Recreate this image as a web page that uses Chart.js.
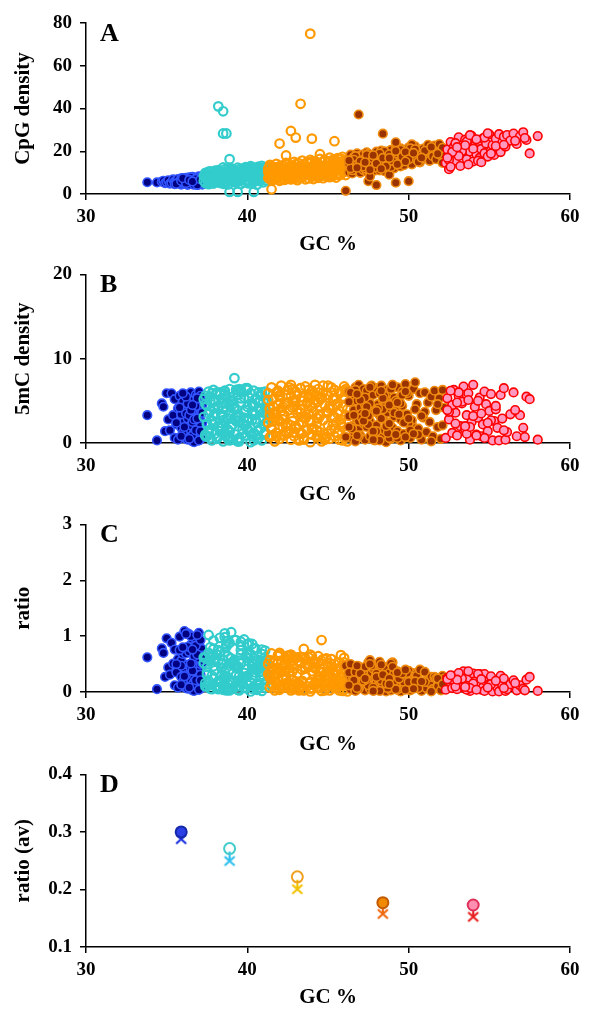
<!DOCTYPE html>
<html>
<head>
<meta charset="utf-8">
<script src="https://cdn.jsdelivr.net/npm/chart.js@4.4.1/dist/chart.umd.min.js"></script>
<style>
  body { margin: 0; background: #fff; }
  #wrap { position: relative; width: 594px; height: 1011px; }
  canvas { position: absolute; left: 0; }
</style>
</head>
<body>
<div id="wrap">
  <canvas id="cA" width="594" height="255" style="top:0px"></canvas>
  <canvas id="cB" width="594" height="250" style="top:255px"></canvas>
  <canvas id="cC" width="594" height="250" style="top:505px"></canvas>
  <canvas id="cD" width="594" height="256" style="top:755px"></canvas>
</div>
<script>
// GC % of each fragment, grouped by isochore class, with CpG density,
// 5mC density and 5mC/CpG ratio for the same fragments
const gcBlue = [
  33.8, 34.4, 34.7, 34.8, 34.9, 35.0, 35.1, 35.2, 35.3, 35.4,
  35.5, 35.5, 35.6, 35.7, 35.7, 35.8, 35.9, 35.9, 36.0, 36.0,
  36.1, 36.1, 36.2, 36.2, 36.3, 36.3, 36.3, 36.4, 36.4, 36.5,
  36.5, 36.5, 36.6, 36.6, 36.6, 36.7, 36.7, 36.7, 36.8, 36.8,
  36.8, 36.9, 36.9, 36.9, 37.0, 37.0, 37.0, 37.0, 37.1, 37.1,
  37.1, 37.2, 37.2, 37.2, 36.4, 36.2, 35.9, 36.7, 37.1, 36.5,
  36.0, 36.2, 36.3, 36.5, 36.6, 36.8, 36.9, 37.0, 37.1, 37.2,
  35.8, 36.1, 36.4, 36.6, 36.9, 37.1, 36.3, 36.7, 37.0, 36.5,
  35.6, 35.9, 36.2, 36.8, 37.2, 36.0, 36.4, 36.9, 36.6, 37.1
];
const cpgBlue = [
  5.5, 5.4, 5.8, 6.2, 5.1, 5.6, 6.4, 4.9, 5.3, 6.8,
  5.9, 4.6, 6.3, 7.0, 5.2, 5.7, 6.6, 4.4, 7.2, 5.0,
  6.1, 4.8, 7.5, 5.6, 6.9, 4.3, 5.9, 7.8, 5.1, 6.4,
  4.7, 7.1, 5.8, 8.0, 4.5, 6.7, 5.3, 7.4, 6.0, 4.9,
  7.7, 5.5, 6.8, 4.2, 7.0, 5.7, 8.2, 4.6, 6.3, 7.6,
  5.2, 6.9, 4.4, 7.9, 6.2, 5.4, 7.3, 4.8, 6.6, 5.0,
  6.3, 5.1, 7.0, 4.7, 6.5, 5.3, 7.6, 4.9, 6.0, 7.3,
  5.6, 6.7, 4.6, 7.2, 5.0, 6.4, 5.8, 4.4, 6.9, 7.7,
  4.8, 6.1, 5.2, 7.0, 5.5, 7.4, 6.6, 4.3, 5.9, 6.8
];
const mcBlue = [
  3.3, 0.3, 4.7, 4.3, 1.4, 5.9, 2.8, 1.5, 5.9, 3.3,
  0.6, 5.2, 2.2, 4.1, 0.4, 5.6, 1.8, 3.7, 0.9, 4.9,
  2.6, 5.8, 0.5, 3.9, 1.7, 4.6, 2.9, 0.8, 5.4, 3.2,
  1.1, 6.0, 4.4, 0.2, 2.4, 5.1, 3.6, 1.3, 5.7, 2.0,
  4.0, 0.7, 3.0, 5.5, 1.9, 4.8, 0.3, 6.1, 2.7, 3.8,
  1.0, 5.3, 2.3, 4.5, 5.0, 1.6, 3.4, 0.1, 4.2, 2.1,
  1.2, 3.5, 0.4, 5.0, 2.5, 4.4, 1.6, 3.0, 5.6, 0.6,
  4.2, 1.9, 3.3, 0.9, 5.3, 2.0, 4.7, 2.8, 0.3, 3.9,
  2.4, 0.8, 5.5, 1.5, 3.6, 5.9, 0.5, 2.9, 4.5, 1.4
];
const ratioBlue = [
  0.62, 0.05, 0.78, 0.70, 0.27, 0.96, 0.44, 0.31, 0.88, 0.51,
  0.12, 0.76, 0.35, 0.59, 0.08, 0.99, 0.27, 0.56, 0.13, 0.68,
  0.43, 1.09, 0.07, 0.70, 0.25, 1.05, 0.49, 0.10, 1.03, 0.50,
  0.23, 0.85, 0.76, 0.03, 0.53, 0.76, 0.68, 0.18, 0.95, 0.41,
  0.52, 0.13, 0.44, 1.01, 0.27, 0.84, 0.04, 1.06, 0.43, 0.50,
  0.19, 0.77, 0.52, 0.57, 0.81, 0.30, 0.47, 0.02, 0.64, 0.42,
  0.18, 0.69, 0.06, 1.00, 0.38, 0.83, 0.21, 0.61, 0.93, 0.08,
  0.75, 0.28, 0.72, 0.13, 1.02, 0.31, 0.81, 0.64, 0.04, 0.51,
  0.50, 0.13, 1.04, 0.21, 0.65, 0.80, 0.08, 0.67, 0.76, 0.21
];

const gcCyan = [
  37.3, 37.4, 37.4, 37.5, 37.5, 37.6, 37.6, 37.7, 37.7, 37.8,
  37.8, 37.9, 37.9, 38.0, 38.0, 38.1, 38.1, 38.2, 38.2, 38.3,
  38.3, 38.4, 38.4, 38.5, 38.5, 38.6, 38.6, 38.6, 38.7, 38.7,
  38.8, 38.8, 38.9, 38.9, 39.0, 39.0, 39.1, 39.1, 39.2, 39.2,
  39.3, 39.3, 39.4, 39.4, 39.5, 39.5, 39.6, 39.6, 39.7, 39.7,
  39.8, 39.8, 39.9, 39.9, 40.0, 40.0, 40.1, 40.1, 40.2, 40.2,
  40.3, 40.3, 40.4, 40.4, 40.5, 40.5, 40.6, 40.6, 40.7, 40.7,
  40.8, 40.8, 40.9, 40.9, 41.0, 41.0, 41.1, 41.1, 41.2, 41.2,
  37.5, 37.9, 38.2, 38.6, 38.9, 39.3, 39.6, 40.0, 40.3, 40.7,
  41.0, 37.7, 38.2, 38.5, 38.5, 38.7, 38.9, 38.9, 39.4, 40.4,
  37.4, 37.6, 37.8, 38.0, 38.2, 38.4, 38.6, 38.8, 39.0, 39.2,
  39.4, 39.6, 39.8, 40.0, 40.2, 40.4, 40.6, 40.8, 41.0, 41.2,
  37.3, 37.5, 37.7, 37.9, 38.1, 38.3, 38.5, 38.7, 38.9, 39.1,
  39.3, 39.5, 39.7, 39.9, 40.1, 40.3, 40.5, 40.7, 40.9, 41.1,
  37.6, 38.0, 38.4, 38.8, 39.2, 39.6, 40.0, 40.4, 40.8, 41.2,
  37.4, 37.9, 38.3, 38.7, 39.1, 39.5, 39.9, 40.3, 40.7, 41.1
];
const cpgCyan = [
  6.2, 8.9, 5.1, 9.8, 7.0, 4.6, 10.4, 6.8, 8.1, 5.5,
  9.2, 7.4, 4.9, 10.9, 6.3, 8.6, 5.8, 11.2, 7.7, 5.2,
  9.5, 6.6, 10.1, 4.8, 8.3, 7.1, 11.5, 5.6, 9.0, 6.0,
  10.6, 4.5, 8.8, 7.3, 12.0, 5.9, 9.7, 6.5, 11.0, 8.0,
  5.3, 10.3, 7.6, 12.3, 6.1, 9.1, 4.7, 11.8, 8.4, 6.9,
  10.8, 5.4, 12.6, 7.9, 9.4, 6.4, 11.3, 5.0, 8.7, 13.0,
  7.2, 10.0, 5.7, 12.1, 8.5, 6.7, 11.6, 4.4, 9.9, 12.8,
  6.0, 10.7, 8.2, 13.2, 5.5, 9.6, 7.5, 12.4, 6.2, 10.2,
  7.8, 9.3, 5.9, 8.0, 6.6, 10.5, 7.0, 9.0, 11.4, 8.6,
  12.2, 6.9, 41.0, 38.7, 28.3, 28.3, 16.3, 1.0, 1.0, 1.0,
  7.6, 5.9, 9.4, 6.1, 10.2, 7.9, 5.4, 11.7, 8.2, 6.3,
  9.8, 7.1, 12.1, 5.6, 10.4, 8.8, 6.5, 11.0, 9.3, 7.4,
  8.4, 6.6, 10.6, 5.3, 9.0, 7.2, 12.4, 6.8, 10.0, 8.5,
  5.8, 11.4, 7.7, 9.6, 6.2, 12.7, 8.1, 10.9, 6.9, 9.7,
  5.0, 8.7, 6.4, 10.3, 7.5, 9.2, 11.9, 6.0, 8.9, 12.5,
  9.9, 7.0, 8.0, 5.5, 11.1, 6.8, 10.1, 7.3, 12.0, 8.3
];
const mcCyan = [
  3.1, 5.6, 0.8, 4.4, 2.2, 6.1, 1.5, 3.8, 5.0, 0.3,
  2.7, 4.9, 6.3, 1.1, 3.5, 5.8, 0.5, 2.0, 4.2, 6.0,
  1.8, 3.3, 5.3, 0.2, 4.7, 2.5, 6.2, 1.3, 3.9, 5.5,
  0.7, 2.9, 4.5, 6.4, 1.9, 3.6, 5.1, 0.4, 7.7, 4.0,
  6.3, 1.0, 3.2, 5.7, 0.6, 2.6, 4.8, 6.0, 2.3, 1.6,
  3.7, 5.4, 0.9, 2.1, 6.5, 4.3, 1.4, 3.0, 5.9, 0.1,
  2.8, 4.6, 6.2, 1.2, 3.4, 5.2, 0.5, 2.4, 4.1, 6.0,
  1.7, 3.9, 5.6, 0.3, 2.9, 4.9, 6.1, 1.0, 3.5, 5.0,
  0.8, 2.2, 4.4, 5.8, 1.3, 3.1, 6.3, 2.6, 4.7, 0.6,
  3.6, 5.5, 1.9, 4.2, 2.7, 0.9, 3.3, 0.4, 0.2, 0.3,
  4.6, 1.2, 5.9, 2.4, 0.7, 3.4, 6.1, 1.6, 4.9, 2.9,
  0.4, 5.3, 3.0, 6.3, 1.8, 4.4, 0.9, 5.7, 2.1, 3.8,
  5.2, 2.3, 0.6, 4.1, 6.0, 1.4, 3.1, 5.5, 0.3, 4.6,
  2.6, 6.4, 1.1, 3.9, 5.4, 0.8, 2.8, 4.8, 6.0, 1.3,
  3.5, 5.0, 2.0, 0.5, 4.3, 6.2, 1.7, 3.6, 5.1, 2.5,
  1.0, 3.2, 5.8, 4.7, 2.2, 0.2, 6.5, 3.7, 1.5, 4.2
];
const ratioCyan = [
  0.52, 0.63, 0.16, 0.45, 0.31, 1.02, 0.15, 0.56, 0.62, 0.05,
  0.29, 0.66, 0.92, 0.10, 0.56, 0.67, 0.09, 0.18, 0.55, 0.97,
  0.19, 0.50, 0.52, 0.04, 0.57, 0.35, 0.98, 0.23, 0.43, 0.91,
  0.07, 0.64, 0.51, 0.88, 0.16, 1.07, 0.53, 0.06, 0.93, 0.50,
  0.93, 0.10, 0.42, 0.46, 0.10, 0.29, 0.90, 0.51, 0.27, 0.23,
  0.34, 0.94, 0.07, 0.27, 0.69, 0.67, 0.12, 0.60, 0.68, 0.01,
  0.86, 0.46, 0.78, 0.10, 0.40, 0.78, 0.04, 0.55, 0.41, 0.47,
  0.28, 0.36, 0.68, 0.02, 0.53, 0.51, 0.74, 0.08, 0.56, 0.49,
  0.10, 0.24, 0.75, 0.72, 0.20, 0.30, 0.84, 0.29, 0.41, 0.07,
  0.30, 0.80, 0.05, 0.11, 0.10, 0.03, 0.21, 0.40, 0.20, 0.30,
  0.61, 0.20, 0.63, 0.39, 0.07, 0.43, 1.05, 0.14, 0.60, 0.46,
  0.04, 0.75, 0.25, 0.85, 0.17, 0.50, 0.14, 0.52, 0.23, 0.51,
  0.62, 0.35, 0.06, 0.77, 0.67, 0.19, 0.25, 0.81, 0.03, 0.54,
  0.45, 0.56, 0.14, 0.41, 0.87, 0.06, 0.35, 0.44, 0.76, 0.13,
  0.70, 0.57, 0.31, 0.05, 0.57, 0.67, 0.14, 0.60, 0.57, 0.20,
  0.10, 0.46, 0.72, 0.85, 0.20, 0.03, 0.64, 0.51, 0.12, 0.51
];

const gcOrange = [
  41.3, 41.3, 41.4, 41.4, 41.5, 41.5, 41.6, 41.6, 41.7, 41.7,
  41.8, 41.8, 41.9, 41.9, 42.0, 42.0, 42.1, 42.1, 42.2, 42.2,
  42.3, 42.3, 42.4, 42.4, 42.5, 42.5, 42.6, 42.6, 42.7, 42.7,
  42.8, 42.8, 42.9, 42.9, 43.0, 43.0, 43.1, 43.1, 43.2, 43.2,
  43.3, 43.3, 43.4, 43.4, 43.5, 43.5, 43.6, 43.6, 43.7, 43.7,
  43.8, 43.8, 43.9, 43.9, 44.0, 44.0, 44.1, 44.1, 44.2, 44.2,
  44.3, 44.3, 44.4, 44.4, 44.5, 44.5, 44.6, 44.6, 44.7, 44.7,
  44.8, 44.8, 44.9, 44.9, 45.0, 45.0, 45.1, 45.1, 45.2, 45.2,
  45.3, 45.3, 45.4, 45.4, 45.5, 45.5, 45.6, 45.6, 45.7, 45.7,
  45.8, 45.8, 45.9, 45.9, 46.0, 46.0, 46.1, 46.1, 46.2, 46.2,
  43.9, 43.3, 42.7, 43.0, 44.0, 45.4, 42.0, 42.4, 41.5, 44.5,
  41.3, 41.5, 41.7, 41.9, 42.1, 42.3, 42.5, 42.7, 42.9, 43.1,
  43.3, 43.5, 43.7, 43.9, 44.1, 44.3, 44.5, 44.7, 44.9, 45.1,
  45.3, 45.5, 45.7, 45.9, 46.1, 41.4, 41.6, 41.8, 42.0, 42.2,
  42.4, 42.6, 42.8, 43.0, 43.2, 43.4, 43.6, 43.8, 44.0, 44.2,
  44.4, 44.6, 44.8, 45.0, 45.2, 45.4, 45.6, 45.8, 46.0, 46.2,
  41.4, 41.9, 42.4, 42.9, 43.4, 43.9, 44.4, 44.9, 45.4, 45.9,
  41.6, 42.2, 42.8, 43.3, 43.8, 44.3, 44.8, 45.3, 45.8, 46.1
];
const cpgOrange = [
  7.5, 11.8, 9.2, 13.6, 6.4, 10.5, 8.3, 12.7, 6.9, 9.8,
  14.1, 7.8, 11.0, 8.6, 13.0, 6.2, 10.2, 12.2, 7.1, 9.5,
  11.4, 6.6, 14.5, 8.9, 10.8, 7.4, 12.9, 9.1, 6.8, 13.3,
  8.0, 11.6, 15.0, 7.2, 10.0, 12.5, 6.5, 9.4, 14.3, 8.7,
  12.0, 7.7, 10.6, 15.6, 8.4, 13.8, 6.9, 11.2, 9.7, 14.8,
  7.3, 12.4, 9.9, 16.0, 8.1, 11.5, 13.4, 7.0, 10.3, 15.2,
  9.0, 14.0, 7.6, 12.1, 16.4, 8.8, 10.7, 13.1, 7.4, 11.9,
  15.5, 9.3, 12.8, 8.2, 14.6, 10.1, 17.0, 7.9, 11.3, 13.7,
  8.5, 15.9, 10.9, 12.6, 7.7, 14.2, 9.6, 16.8, 11.1, 13.2,
  9.2, 15.0, 12.3, 17.4, 10.4, 14.4, 8.9, 16.1, 11.7, 13.5,
  75.0, 42.2, 29.5, 26.4, 25.9, 24.7, 23.6, 18.0, 2.2, 18.6,
  10.3, 8.0, 12.5, 7.2, 11.3, 9.6, 13.9, 8.3, 10.9, 12.0,
  7.5, 11.9, 9.4, 14.6, 10.8, 8.6, 13.2, 11.6, 9.2, 15.1,
  10.6, 13.5, 8.8, 12.9, 14.7, 7.0, 9.9, 12.2, 8.5, 13.4,
  10.0, 7.8, 11.5, 14.0, 9.0, 12.6, 10.4, 8.9, 15.3, 11.1,
  13.6, 9.8, 16.0, 12.3, 10.2, 14.9, 12.0, 16.5, 10.7, 15.8,
  12.8, 9.3, 7.9, 11.8, 13.1, 8.7, 12.7, 10.5, 16.2, 11.4,
  8.2, 10.8, 13.0, 9.6, 11.2, 14.3, 12.4, 9.4, 14.0, 12.9
];
const mcOrange = [
  2.4, 5.9, 0.7, 4.1, 6.6, 1.6, 3.5, 5.2, 0.2, 3.0,
  6.0, 1.2, 4.6, 2.8, 0.5, 5.5, 3.8, 6.8, 1.9, 4.3,
  0.9, 3.3, 5.7, 2.0, 6.3, 4.8, 1.4, 3.9, 6.9, 0.4,
  5.0, 2.6, 0.8, 4.4, 6.1, 1.7, 3.6, 5.8, 2.2, 0.3,
  6.5, 4.0, 1.1, 3.1, 5.4, 0.6, 2.9, 6.7, 4.7, 1.5,
  3.4, 5.6, 0.1, 2.5, 6.2, 4.2, 1.8, 3.7, 5.1, 6.9,
  0.7, 2.3, 4.9, 6.4, 1.3, 3.2, 5.3, 0.2, 2.7, 6.0,
  4.5, 1.0, 3.8, 5.7, 6.8, 2.1, 0.5, 4.1, 6.6, 1.6,
  3.0, 5.2, 0.8, 6.3, 2.4, 4.6, 1.2, 3.5, 5.9, 0.4,
  6.1, 2.8, 4.3, 1.9, 5.5, 0.6, 3.3, 6.4, 1.4, 4.0,
  4.4, 3.6, 2.1, 5.0, 1.7, 3.1, 2.6, 4.8, 0.9, 5.3,
  5.1, 1.8, 3.7, 6.2, 0.9, 4.5, 2.3, 5.6, 1.2, 3.9,
  6.5, 0.4, 4.8, 2.7, 5.9, 1.5, 3.4, 6.8, 0.7, 4.4,
  2.1, 5.3, 3.8, 0.3, 6.1, 4.0, 2.6, 0.8, 5.7, 3.2,
  1.4, 6.6, 4.2, 2.0, 0.5, 5.0, 3.1, 6.3, 1.0, 4.7,
  2.9, 5.5, 0.6, 3.6, 6.0, 1.7, 4.6, 2.4, 6.7, 0.2,
  3.3, 6.0, 1.3, 4.9, 2.5, 5.8, 0.9, 3.7, 5.2, 1.9,
  4.3, 2.8, 6.4, 1.1, 5.4, 3.0, 0.4, 4.1, 2.2, 6.2
];
const ratioOrange = [
  0.32, 0.50, 0.08, 0.30, 0.69, 0.15, 0.42, 0.41, 0.03, 0.31,
  0.43, 0.15, 0.42, 0.33, 0.04, 0.70, 0.37, 0.56, 0.27, 0.45,
  0.08, 0.50, 0.39, 0.22, 0.58, 0.65, 0.11, 0.43, 0.66, 0.03,
  0.63, 0.22, 0.05, 0.61, 0.61, 0.14, 0.55, 0.62, 0.15, 0.03,
  0.54, 0.52, 0.10, 0.20, 0.77, 0.04, 0.42, 0.60, 0.48, 0.10,
  0.47, 0.45, 0.01, 0.16, 0.64, 0.37, 0.13, 0.53, 0.50, 0.45,
  0.08, 0.16, 0.64, 0.53, 0.08, 0.36, 0.93, 0.02, 0.36, 0.50,
  0.29, 0.11, 0.30, 0.60, 0.47, 0.21, 0.03, 0.52, 0.59, 0.12,
  0.35, 0.33, 0.07, 0.50, 0.31, 0.32, 0.13, 0.21, 0.53, 0.03,
  0.66, 0.19, 0.35, 0.11, 0.53, 0.04, 0.37, 0.40, 0.12, 0.30,
  0.06, 0.09, 0.07, 0.19, 0.07, 0.13, 0.11, 0.27, 0.41, 0.28,
  0.50, 0.23, 0.30, 0.66, 0.08, 0.47, 0.17, 0.67, 0.11, 0.33,
  0.63, 0.03, 0.51, 0.18, 0.55, 0.17, 0.26, 0.59, 0.08, 0.29,
  0.20, 0.39, 0.43, 0.02, 0.41, 0.57, 0.26, 0.07, 0.67, 0.24,
  0.14, 0.64, 0.37, 0.14, 0.06, 0.40, 0.30, 0.62, 0.07, 0.42,
  0.21, 0.56, 0.04, 0.29, 0.59, 0.11, 0.38, 0.15, 0.61, 0.01,
  0.26, 0.64, 0.16, 0.42, 0.19, 0.67, 0.07, 0.35, 0.32, 0.17,
  0.52, 0.26, 0.49, 0.11, 0.48, 0.21, 0.03, 0.44, 0.16, 0.48
];

const gcBrown = [
  46.3, 46.3, 46.4, 46.4, 46.5, 46.5, 46.6, 46.6, 46.7, 46.7,
  46.8, 46.8, 46.9, 46.9, 47.0, 47.0, 47.1, 47.1, 47.2, 47.2,
  47.3, 47.3, 47.4, 47.4, 47.5, 47.5, 47.6, 47.6, 47.7, 47.7,
  47.8, 47.8, 47.9, 47.9, 48.0, 48.0, 48.1, 48.1, 48.2, 48.2,
  48.3, 48.3, 48.4, 48.4, 48.5, 48.5, 48.6, 48.6, 48.7, 48.7,
  48.8, 48.8, 48.9, 48.9, 49.0, 49.0, 49.1, 49.1, 49.2, 49.2,
  49.3, 49.3, 49.4, 49.4, 49.5, 49.5, 49.6, 49.6, 49.7, 49.8,
  49.9, 50.0, 50.1, 50.2, 50.3, 50.4, 50.5, 50.6, 50.7, 50.8,
  50.9, 51.0, 51.1, 51.2, 51.3, 51.4, 51.5, 51.6, 51.7, 51.8,
  51.9, 52.0, 52.1, 52.2, 50.2, 50.6, 51.0, 51.4, 51.8, 52.1,
  46.9, 48.4, 46.1, 47.5, 48.0, 49.2, 50.0, 49.2, 48.8, 47.6,
  46.3, 46.5, 46.7, 46.9, 47.1, 47.3, 47.5, 47.7, 47.9, 48.1,
  48.3, 48.5, 48.7, 48.9, 49.1, 49.3, 49.5, 49.7, 49.9, 50.1,
  46.4, 46.6, 46.8, 47.0, 47.2, 47.4, 47.6, 47.8, 48.0, 48.2,
  48.4, 48.6, 48.8, 49.0, 49.2, 49.4, 49.6, 49.8, 50.0, 50.4,
  46.3, 46.8, 47.3, 47.8, 48.3, 48.8, 49.3, 49.8, 50.3, 50.8
];
const cpgBrown = [
  10.2, 16.5, 12.8, 18.4, 9.6, 14.7, 17.3, 11.5, 15.6, 13.4,
  19.0, 10.8, 15.0, 12.1, 17.8, 9.9, 14.0, 16.9, 11.2, 18.6,
  13.0, 15.9, 10.5, 19.5, 12.5, 17.1, 14.4, 9.4, 16.2, 11.8,
  18.0, 13.7, 15.3, 10.9, 19.8, 12.3, 16.7, 14.9, 11.0, 17.6,
  15.2, 20.3, 12.7, 17.0, 10.7, 18.9, 14.2, 16.0, 13.3, 19.3,
  11.6, 17.4, 15.7, 20.6, 13.1, 18.2, 12.0, 16.4, 14.6, 21.0,
  17.9, 13.6, 19.7, 15.4, 21.4, 12.9, 18.5, 16.8, 14.1, 20.0,
  15.8, 21.8, 17.2, 13.9, 19.1, 22.3, 16.1, 20.8, 14.8, 18.7,
  21.2, 16.6, 19.9, 23.0, 15.5, 20.5, 17.7, 22.7, 16.3, 19.4,
  23.4, 18.1, 21.6, 17.5, 23.2, 15.1, 20.2, 22.0, 18.8, 14.6,
  37.2, 28.2, 1.5, 6.0, 4.2, 5.3, 6.0, 24.2, 9.0, 8.2,
  14.0, 11.1, 17.7, 13.2, 15.8, 11.9, 18.8, 14.5, 12.4, 17.1,
  13.8, 19.9, 16.3, 12.6, 18.0, 15.0, 20.7, 13.5, 17.6, 21.3,
  12.0, 16.0, 13.6, 15.3, 12.9, 18.3, 11.4, 16.6, 14.3, 19.0,
  16.9, 13.0, 18.6, 15.5, 20.1, 14.2, 17.4, 19.6, 16.2, 20.9,
  15.7, 12.3, 14.8, 18.1, 11.8, 16.8, 13.9, 15.2, 19.2, 17.0
];
const mcBrown = [
  3.2, 6.1, 0.6, 4.8, 2.0, 5.5, 1.3, 3.9, 6.6, 0.2,
  2.7, 5.0, 6.9, 1.6, 4.2, 0.9, 3.5, 5.8, 2.3, 6.4,
  0.4, 4.5, 1.9, 6.2, 3.0, 5.3, 0.8, 2.6, 6.7, 4.0,
  1.2, 5.7, 3.7, 0.3, 6.5, 2.1, 4.6, 1.0, 5.9, 3.3,
  6.8, 0.7, 2.9, 5.1, 1.5, 4.3, 6.3, 0.1, 3.6, 5.6,
  2.4, 6.0, 0.5, 4.1, 6.9, 1.8, 3.1, 5.4, 0.9, 4.9,
  6.6, 1.4, 3.8, 5.2, 0.3, 2.8, 6.1, 4.4, 1.1, 7.0,
  3.4, 5.6, 0.6, 2.2, 6.4, 7.2, 4.6, 1.7, 5.9, 0.4,
  3.0, 6.0, 1.3, 4.8, 2.5, 5.5, 0.8, 6.2, 3.9, 1.9,
  5.3, 0.5, 6.3, 4.2, 2.7, 1.0, 3.7, 0.2, 4.6, 2.1,
  2.6, 4.0, 0.7, 3.2, 1.4, 5.0, 2.3, 3.8, 0.6, 4.7,
  4.9, 1.7, 6.3, 0.8, 3.0, 5.4, 2.2, 6.8, 0.5, 4.1,
  2.9, 5.6, 1.2, 6.4, 3.6, 0.6, 4.7, 2.4, 5.9, 1.5,
  6.0, 3.3, 0.9, 5.1, 2.6, 4.3, 6.6, 1.4, 3.8, 0.3,
  5.3, 2.0, 4.5, 6.9, 1.0, 3.4, 5.7, 0.7, 2.9, 4.0,
  1.9, 5.8, 3.5, 0.4, 6.2, 2.3, 4.8, 6.1, 1.1, 3.2
];
const ratioBrown = [
  0.31, 0.37, 0.05, 0.26, 0.21, 0.37, 0.08, 0.34, 0.42, 0.02,
  0.14, 0.46, 0.46, 0.13, 0.24, 0.09, 0.25, 0.34, 0.21, 0.34,
  0.03, 0.28, 0.18, 0.32, 0.24, 0.31, 0.06, 0.28, 0.41, 0.34,
  0.07, 0.42, 0.24, 0.03, 0.33, 0.17, 0.28, 0.07, 0.54, 0.19,
  0.45, 0.03, 0.23, 0.30, 0.14, 0.23, 0.44, 0.01, 0.27, 0.29,
  0.21, 0.34, 0.03, 0.20, 0.53, 0.10, 0.26, 0.33, 0.06, 0.23,
  0.37, 0.10, 0.19, 0.34, 0.01, 0.22, 0.33, 0.26, 0.08, 0.35,
  0.22, 0.26, 0.03, 0.16, 0.34, 0.32, 0.29, 0.08, 0.40, 0.02,
  0.14, 0.36, 0.07, 0.21, 0.16, 0.27, 0.05, 0.27, 0.24, 0.10,
  0.23, 0.03, 0.29, 0.24, 0.12, 0.07, 0.18, 0.01, 0.24, 0.14,
  0.07, 0.14, 0.47, 0.53, 0.33, 0.19, 0.38, 0.16, 0.07, 0.57,
  0.35, 0.15, 0.36, 0.06, 0.19, 0.45, 0.12, 0.47, 0.04, 0.24,
  0.21, 0.28, 0.07, 0.51, 0.20, 0.04, 0.23, 0.18, 0.34, 0.07,
  0.50, 0.21, 0.07, 0.33, 0.20, 0.23, 0.50, 0.08, 0.27, 0.02,
  0.31, 0.15, 0.24, 0.45, 0.05, 0.24, 0.33, 0.04, 0.18, 0.19,
  0.12, 0.47, 0.24, 0.02, 0.49, 0.14, 0.35, 0.40, 0.06, 0.19
];

const gcRed = [
  52.3, 52.4, 52.5, 52.6, 52.7, 52.8, 52.9, 53.0, 53.1, 53.2,
  53.3, 53.4, 53.5, 53.6, 53.7, 53.8, 53.9, 54.0, 54.1, 54.2,
  54.3, 54.4, 54.5, 54.6, 54.7, 54.8, 54.9, 55.0, 55.1, 55.2,
  55.3, 55.4, 55.5, 55.6, 55.7, 55.8, 55.9, 56.0, 56.1, 56.3,
  56.5, 56.7, 56.9, 57.1, 57.3, 57.5, 58.0, 52.5, 52.9, 53.3,
  53.6, 54.0, 54.3, 54.7, 55.1, 55.4, 53.1, 53.8, 54.5, 52.7,
  53.5, 54.2, 52.4, 53.0, 55.9, 56.6, 54.9, 53.7, 52.6, 57.2
];
const cpgRed = [
  14.5, 20.8, 11.6, 24.3, 17.2, 22.0, 15.6, 19.4, 26.5, 13.1,
  21.7, 18.0, 25.4, 16.3, 23.1, 19.9, 27.2, 15.2, 22.6, 18.6,
  24.8, 16.9, 21.0, 26.0, 19.1, 23.6, 17.5, 27.9, 20.4, 22.9,
  18.3, 25.9, 21.5, 28.0, 19.6, 24.1, 26.8, 22.2, 27.6, 25.0,
  28.3, 23.4, 27.0, 28.9, 25.3, 19.0, 27.1, 16.0, 23.8, 20.1,
  24.6, 21.2, 15.6, 26.4, 18.9, 22.4, 17.8, 27.5, 14.9, 19.7,
  22.8, 25.6, 17.0, 21.9, 23.0, 24.9, 28.4, 13.8, 12.7, 26.2
];
const mcRed = [
  0.6, 5.3, 2.8, 4.1, 1.2, 6.3, 3.6, 0.9, 5.6, 2.0,
  4.7, 6.7, 1.6, 3.3, 5.9, 0.4, 2.5, 6.9, 4.3, 1.0,
  3.0, 5.4, 0.8, 2.2, 6.1, 4.6, 1.4, 3.8, 5.8, 0.3,
  2.6, 4.0, 1.8, 0.3, 5.7, 2.9, 6.5, 0.4, 1.3, 3.4,
  6.0, 0.8, 3.3, 1.8, 5.5, 5.2, 0.4, 3.7, 2.3, 4.9,
  1.1, 3.2, 5.0, 0.6, 2.7, 4.4, 6.0, 1.9, 3.5, 4.5,
  2.0, 0.9, 3.9, 4.8, 1.5, 3.9, 2.4, 5.1, 6.2, 0.7
];
const ratioRed = [
  0.04, 0.25, 0.24, 0.17, 0.07, 0.29, 0.23, 0.05, 0.21, 0.15,
  0.22, 0.37, 0.06, 0.20, 0.26, 0.02, 0.09, 0.33, 0.19, 0.05,
  0.12, 0.32, 0.04, 0.08, 0.32, 0.19, 0.08, 0.14, 0.28, 0.01,
  0.14, 0.15, 0.08, 0.01, 0.29, 0.12, 0.24, 0.02, 0.05, 0.14,
  0.21, 0.03, 0.12, 0.06, 0.22, 0.27, 0.02, 0.23, 0.10, 0.24,
  0.04, 0.15, 0.32, 0.02, 0.14, 0.20, 0.34, 0.07, 0.23, 0.23,
  0.09, 0.04, 0.23, 0.22, 0.07, 0.16, 0.08, 0.37, 0.30, 0.03
];

// class averages (panel D): circles and asterisks
const gcAvg = [35.9, 38.9, 43.1, 48.4, 54.0];
const ratioAvg = [0.300, 0.271, 0.222, 0.177, 0.173];
const ratioAvgAlt = [0.290, 0.252, 0.203, 0.160, 0.155];

const FONT = "'Liberation Serif', 'Times New Roman', serif";

// marker styles for the five classes
const groups = [
  { gc: gcBlue,   A: cpgBlue,   B: mcBlue,   C: ratioBlue,   fill: '#000080', edge: '#3355ff', bw: 1.6 },
  { gc: gcCyan,   A: cpgCyan,   B: mcCyan,   C: ratioCyan,   fill: 'rgba(0,0,0,0)', edge: '#33cccc', bw: 2.2 },
  { gc: gcOrange, A: cpgOrange, B: mcOrange, C: ratioOrange, fill: 'rgba(0,0,0,0)', edge: '#ff9900', bw: 2.2 },
  { gc: gcBrown,  A: cpgBrown,  B: mcBrown,  C: ratioBrown,  fill: '#993300', edge: '#f08c10', bw: 1.6 },
  { gc: gcRed,    A: cpgRed,    B: mcRed,    C: ratioRed,    fill: '#ff99c0', edge: '#ff0000', bw: 1.6 }
];

function scatterSets(key) {
  return groups.map((g, i) => ({
    data: g.gc.map((x, j) => ({ x: x, y: g[key][j] })),
    backgroundColor: g.fill,
    borderColor: g.edge,
    pointRadius: 4.3,
    pointHoverRadius: 4.3,
    borderWidth: g.bw,
    clip: false,
    order: 5 - i
  }));
}

// asterisk marker: an X with a vertical stroke through it
function asterisk(color) {
  const c = document.createElement('canvas');
  c.width = 16; c.height = 18;
  const g = c.getContext('2d');
  g.strokeStyle = color;
  g.lineWidth = 2.2;
  g.beginPath();
  g.moveTo(3, 6); g.lineTo(13, 15);
  g.moveTo(13, 6); g.lineTo(3, 15);
  g.moveTo(8, 1); g.lineTo(8, 10);
  g.stroke();
  return c;
}

const letterPlugin = {
  id: 'panelLetter',
  afterDraw(chart, args, opts) {
    const { ctx, chartArea } = chart;
    ctx.save();
    ctx.font = 'bold 26px ' + FONT;
    ctx.fillStyle = '#000';
    ctx.textBaseline = 'middle';
    ctx.fillText(opts.text, chartArea.left + 14, chartArea.top + 11);
    ctx.restore();
  }
};

function axisCommon() {
  return {
    type: 'linear',
    border: { display: true, color: '#000', width: 1.5 },
    grid: { drawOnChartArea: false, drawTicks: true, tickLength: 6, color: '#000', lineWidth: 1.5 },
  };
}

function buildChart(cfg) {
  const canvas = document.getElementById(cfg.id);
  const h = canvas.height;
  return new Chart(canvas, {
    type: 'scatter',
    data: { datasets: cfg.datasets },
    options: {
      responsive: false,
      animation: false,
      devicePixelRatio: 1,
      events: [],
      layout: { padding: { top: cfg.top, right: 24, left: 0, bottom: 0 } },
      plugins: {
        legend: { display: false },
        tooltip: { enabled: false },
        panelLetter: { text: cfg.letter }
      },
      scales: {
        x: Object.assign(axisCommon(), {
          min: 30, max: 60,
          ticks: { stepSize: 10, color: '#000', padding: 6, font: { family: FONT, size: 19, weight: 'bold' } },
          title: { display: true, text: 'GC %', color: '#000', padding: { top: 0, bottom: cfg.titlePad || 0 },
                   font: { family: FONT, size: 21, weight: 'bold', lineHeight: 1 } },
          afterFit(s) { s.height = h - cfg.bottom; }
        }),
        y: Object.assign(axisCommon(), {
          min: cfg.min, max: cfg.max,
          ticks: {
            stepSize: cfg.step, color: '#000', padding: 8,
            font: { family: FONT, size: 19, weight: 'bold' },
            callback: cfg.fmt || (v => v)
          },
          title: { display: true, text: cfg.title, color: '#000', padding: { top: 13.5, bottom: 0 },
                   font: { family: FONT, size: 21, weight: 'bold', lineHeight: 1 } },
          afterFit(s) { s.width = 86; }
        })
      }
    },
    plugins: [letterPlugin]
  });
}

buildChart({ id: 'cA', letter: 'A', title: 'CpG density', min: 0, max: 80, step: 20, top: 23, bottom: 194,
             datasets: scatterSets('A') });
buildChart({ id: 'cB', letter: 'B', title: '5mC density', min: 0, max: 20, step: 10, top: 17, bottom: 188,
             datasets: scatterSets('B') });
buildChart({ id: 'cC', letter: 'C', title: 'ratio', min: 0, max: 3, step: 1, top: 19, bottom: 187,
             datasets: scatterSets('C') });

const avgFill = ['#2a40e6', 'rgba(0,0,0,0)', 'rgba(0,0,0,0)', '#f28a00', '#ff8fb0'];
const avgEdge = ['#1428a8', '#44cccc', '#f0a020', '#c45a00', '#e0305a'];
const altColor = ['#1a30e0', '#30bfee', '#f2c200', '#f06a10', '#e82020'];

buildChart({ id: 'cD', letter: 'D', title: 'ratio (av)', min: 0.1, max: 0.4, step: 0.1, top: 18, bottom: 192,
             titlePad: 3, fmt: v => Number(v).toFixed(1),
             datasets: [
               {
                 data: gcAvg.map((x, i) => ({ x: x, y: ratioAvgAlt[i] })),
                 pointStyle: altColor.map(asterisk),
                 pointRadius: 6, pointHoverRadius: 6, clip: false, order: 2
               },
               {
                 data: gcAvg.map((x, i) => ({ x: x, y: ratioAvg[i] })),
                 backgroundColor: avgFill, borderColor: avgEdge,
                 pointRadius: 5.5, pointHoverRadius: 5.5, borderWidth: 2, clip: false, order: 1
               }
             ] });
</script>
</body>
</html>
